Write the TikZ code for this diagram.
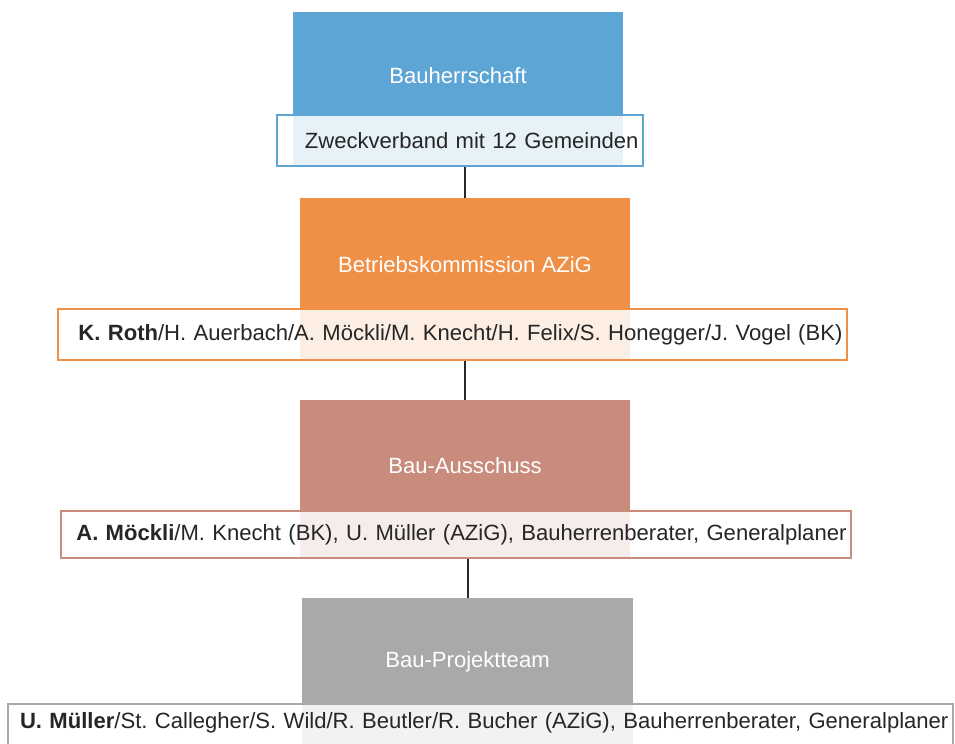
\documentclass[tikz,border=0pt]{standalone}
\usepackage{fontspec}
\setmainfont{Liberation Sans}
\frenchspacing

\definecolor{herrblue}{RGB}{93,165,213}
\definecolor{kommorange}{RGB}{240,143,70}
\definecolor{ausrose}{RGB}{201,140,124}
\definecolor{teamgray}{RGB}{168,169,168}
\definecolor{linkgray}{RGB}{40,40,40}

\tikzset{
  bigbox/.style={anchor=north, minimum width=247.5pt, inner sep=0pt},
  namebox/.style={anchor=north, draw=#1, line width=1.5pt, fill=white, fill opacity=0.85,
    text opacity=1, text=black!85, inner xsep=3.4pt, inner ysep=0pt, minimum height=38.25pt, align=right},
  title/.style={text=white},
  link/.style={draw=linkgray, line width=1.5pt}
}

\begin{document}
\begin{tikzpicture}[x=0.75pt, y=-0.75pt, font=\fontsize{16.55}{20}\selectfont]
\clip (0,0) rectangle (955,743);

\node[bigbox, fill=herrblue, minimum height=114.75pt] (herr) at (458,12) {};
\node[namebox=herrblue, text width=267.7pt] (herrnames) at (460,114) {Zweckverband mit 12 Gemeinden};
\node[title] (herrtitle) at (458,76) {Bauherrschaft};

\node[bigbox, fill=kommorange, minimum height=120.75pt] (komm) at (465,198) {};
\node[namebox=kommorange, text width=584.9pt] (kommnames) at (452.5,308) {\mbox{\textbf{K. Roth}/H. Auerbach/A. Möckli/M. Knecht/H. Felix/S. Honegger/J. Vogel (BK)}};
\node[title] (kommtitle) at (465,265) {Betriebskommission AZiG};

\node[bigbox, fill=ausrose, minimum height=117.75pt] (aus) at (465,400) {};
\node[namebox=ausrose, text width=585.7pt, minimum height=35.25pt] (ausnames) at (456,510) {\mbox{\textbf{A. Möckli}/M. Knecht (BK), U. Müller (AZiG), Bauherrenberater, Generalplaner}};
\node[title] (austitle) at (465,466) {Bau-Ausschuss};

\node[bigbox, fill=teamgray, minimum width=248.25pt, minimum height=120pt] (team) at (467.5,598) {};
\node[namebox=teamgray, text width=701.9pt, text depth=14pt] (teamnames) at (480.5,703) {\mbox{\textbf{U. Müller}/St. Callegher/S. Wild/R. Beutler/R. Bucher (AZiG), Bauherrenberater, Generalplaner}};
\node[title] (teamtitle) at (467.5,662) {Bau-Projektteam};

\draw[link] (komm.north |- herrnames.south) -- (komm.north);
\draw[link] (aus.north |- kommnames.south) -- (aus.north);
\draw[link] (team.north |- ausnames.south) -- (team.north);

\end{tikzpicture}
\end{document}
